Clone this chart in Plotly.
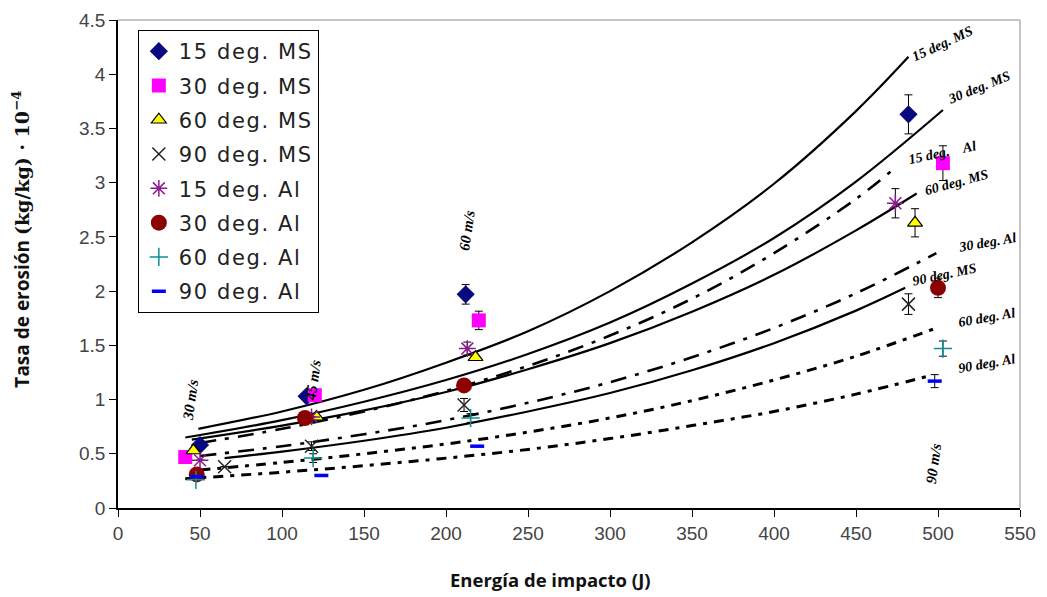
import plotly.graph_objects as go

# ---------------- data ----------------
series_names = ["15 deg. MS", "30 deg. MS", "60 deg. MS", "90 deg. MS",
                "15 deg. Al", "30 deg. Al", "60 deg. Al", "90 deg. Al"]

pts_x = {
    "15 deg. MS": [50, 115, 212, 482],
    "30 deg. MS": [41, 120, 220, 503],
    "60 deg. MS": [46, 121, 218, 486],
    "90 deg. MS": [65, 118, 211, 482],
    "15 deg. Al": [50, 118, 213, 474],
    "30 deg. Al": [48, 114, 211, 500],
    "60 deg. Al": [47.5, 119, 215, 503],
    "90 deg. Al": [48, 124, 219, 498],
}
pts_y = {
    "15 deg. MS": [0.58, 1.03, 1.97, 3.63],
    "30 deg. MS": [0.47, 1.04, 1.73, 3.18],
    "60 deg. MS": [0.53, 0.84, 1.39, 2.63],
    "90 deg. MS": [0.38, 0.57, 0.95, 1.88],
    "15 deg. Al": [0.44, 0.84, 1.47, 2.81],
    "30 deg. Al": [0.31, 0.83, 1.13, 2.03],
    "60 deg. Al": [0.26, 0.46, 0.83, 1.47],
    "90 deg. Al": [0.29, 0.30, 0.57, 1.17],
}
pts_err = {
    "15 deg. MS": [0, 0, 0.09, 0.18],
    "30 deg. MS": [0, 0, 0.085, 0.16],
    "60 deg. MS": [0, 0, 0, 0.13],
    "90 deg. MS": [0, 0.04, 0.06, 0.095],
    "15 deg. Al": [0, 0, 0.06, 0.135],
    "30 deg. Al": [0, 0, 0, 0.09],
    "60 deg. Al": [0, 0.04, 0.04, 0.07],
    "90 deg. Al": [0, 0, 0, 0.06],
}

# fitted curves (read at regular energies)
curve_x = {
    "15 deg. MS": [49, 100, 150, 200, 250, 300, 350, 400, 450, 482],
    "30 deg. MS": [41, 100, 150, 200, 250, 300, 350, 400, 450, 503],
    "15 deg. Al": [50, 100, 150, 200, 250, 300, 350, 400, 450, 471],
    "60 deg. MS": [45, 100, 150, 200, 250, 300, 350, 400, 450, 487],
    "30 deg. Al": [50, 100, 150, 200, 250, 300, 350, 400, 450, 499],
    "90 deg. MS": [65, 100, 150, 200, 250, 300, 350, 400, 450, 480],
    "60 deg. Al": [50, 100, 150, 200, 250, 300, 350, 400, 450, 499],
    "90 deg. Al": [41, 100, 150, 200, 250, 300, 350, 400, 450, 495],
}
curve_y = {
    "15 deg. MS": [0.73, 0.89, 1.09, 1.34, 1.63, 2.00, 2.45, 2.99, 3.66, 4.16],
    "30 deg. MS": [0.65, 0.81, 0.98, 1.18, 1.42, 1.71, 2.07, 2.49, 3.01, 3.67],
    "15 deg. Al": [0.60, 0.73, 0.89, 1.08, 1.31, 1.59, 1.93, 2.35, 2.85, 3.10],
    "60 deg. MS": [0.63, 0.76, 0.90, 1.07, 1.28, 1.52, 1.81, 2.15, 2.56, 2.90],
    "30 deg. Al": [0.48, 0.57, 0.68, 0.81, 0.97, 1.16, 1.39, 1.66, 1.98, 2.35],
    "90 deg. MS": [0.46, 0.52, 0.62, 0.74, 0.89, 1.06, 1.27, 1.52, 1.82, 2.03],
    "60 deg. Al": [0.35, 0.42, 0.50, 0.59, 0.70, 0.83, 0.99, 1.18, 1.40, 1.66],
    "90 deg. Al": [0.27, 0.33, 0.39, 0.46, 0.54, 0.64, 0.76, 0.89, 1.05, 1.22],
}

curve_labels = ["15 deg. MS", "30 deg. MS", "15 deg.&nbsp;&nbsp;&nbsp;&nbsp;Al", "60 deg. MS",
                "30 deg. Al", "90 deg. MS", "60 deg. Al", "90 deg. Al"]
curve_order = ["15 deg. MS", "30 deg. MS", "15 deg. Al", "60 deg. MS",
               "30 deg. Al", "90 deg. MS", "60 deg. Al", "90 deg. Al"]
curve_label_x = [503, 525, 503, 511, 530, 504, 530, 530]
curve_label_y = [4.28, 3.88, 3.28, 3.00, 2.45, 2.15, 1.76, 1.33]
curve_label_angle = [-25, -22, -12, -15, -10, -12, -10, -10]

speed_labels = ["30 m/s", "45 m/s", "60 m/s", "90 m/s"]
speed_x = [44, 119, 213, 497]
speed_y = [1.00, 1.18, 2.56, 0.41]

x_ticks = list(range(0, 551, 50))
y_ticks = [0, 0.5, 1, 1.5, 2, 2.5, 3, 3.5, 4, 4.5]

# ---------------- styles ----------------
marker_style = {
    "15 deg. MS": dict(symbol="diamond", color="#0a0a80", size=14),
    "30 deg. MS": dict(symbol="square", color="#ff00ff", size=14),
    "60 deg. MS": dict(symbol="triangle-up", color="#ffff00", size=13,
                       line=dict(color="black", width=1.2)),
    "90 deg. MS": dict(symbol="x-thin-open", color="#222222", size=13,
                       line=dict(color="#222222", width=1.5)),
    "15 deg. Al": dict(symbol="asterisk-open", color="#8b1a8b", size=14,
                       line=dict(color="#8b1a8b", width=1.5)),
    "30 deg. Al": dict(symbol="circle", color="#8b0000", size=16),
    "60 deg. Al": dict(symbol="cross-thin-open", color="#0e8f8f", size=13,
                       line=dict(color="#0e8f8f", width=1.5)),
    "90 deg. Al": dict(symbol="line-ew-open", color="#0000ff", size=10,
                       line=dict(color="#0000ff", width=3.5)),
}
curve_style = {
    "15 deg. MS": dict(color="black", width=2.2, dash="solid"),
    "30 deg. MS": dict(color="black", width=2.2, dash="solid"),
    "60 deg. MS": dict(color="black", width=2.2, dash="solid"),
    "90 deg. MS": dict(color="black", width=2.2, dash="solid"),
    "15 deg. Al": dict(color="black", width=2.6, dash="16px,9px,4px,9px"),
    "30 deg. Al": dict(color="black", width=2.6, dash="16px,9px,4px,9px"),
    "60 deg. Al": dict(color="black", width=3.0, dash="10px,7px,4px,7px"),
    "90 deg. Al": dict(color="black", width=3.0, dash="10px,7px,4px,7px"),
}

fig = go.Figure()

for name in curve_order:
    fig.add_trace(go.Scatter(
        x=curve_x[name], y=curve_y[name], mode="lines",
        line=dict(shape="spline", **curve_style[name]),
        showlegend=False, hoverinfo="skip"))

for name in series_names:
    fig.add_trace(go.Scatter(
        x=pts_x[name], y=pts_y[name], mode="markers",
        name="<span style='letter-spacing:1.6px'>" + name + "</span>",
        legendgroup=name,
        marker=marker_style[name],
        error_y=dict(type="data", array=pts_err[name], visible=True,
                     color="black", thickness=1, width=4)))

ann = []
for t, x, y, a in zip(curve_labels, curve_label_x, curve_label_y, curve_label_angle):
    ann.append(dict(x=x, y=y, xref="x", yref="y", text="<b><i>" + t + "</i></b>",
                    showarrow=False, textangle=a,
                    font=dict(family="Liberation Serif", size=14, color="black")))
for t, x, y in zip(speed_labels, speed_x, speed_y):
    ann.append(dict(x=x, y=y, xref="x", yref="y", text="<b><i>" + t + "</i></b>",
                    showarrow=False, textangle=-82,
                    font=dict(family="Liberation Serif", size=15, color="black")))

# axis titles
ann.append(dict(x=-0.1064, y=0.55, xref="paper", yref="paper", showarrow=False,
                textangle=-90, xanchor="center", yanchor="middle",
                text="<b>Tasa de erosión <span style='font-family:DejaVu Serif'>(kg/kg) · 10<sup>−4</sup></span></b>",
                font=dict(family="Open Sans", size=19, color="#111111")))
ann.append(dict(x=0.48, y=-0.1475, xref="paper", yref="paper", showarrow=False,
                xanchor="center", yanchor="middle",
                text="<b>Energía de impacto (J)</b>",
                font=dict(family="Open Sans", size=18.5, color="#111111")))

fig.update_layout(
    width=1047, height=597,
    margin=dict(l=118, r=27, t=20, b=89),
    paper_bgcolor="white", plot_bgcolor="white",
    font=dict(family="Liberation Sans", size=18, color="#333333"),
    annotations=ann,
    legend=dict(x=0.022, y=0.9795, xanchor="left", yanchor="top",
                bgcolor="white", bordercolor="black", borderwidth=1,
                font=dict(family="DejaVu Sans", size=21, color="#222222"),
                itemwidth=30, tracegroupgap=4),
    xaxis=dict(range=[0, 550], tickvals=x_ticks, showgrid=False, zeroline=False,
               showline=True, linecolor="black", linewidth=1.5, automargin=False,
               ticks="outside", ticklen=7, tickcolor="black",
               tickfont=dict(family="Liberation Sans", size=19, color="#444444")),
    yaxis=dict(range=[0, 4.5], tickvals=y_ticks, showgrid=False, zeroline=False,
               showline=True, linecolor="black", linewidth=1.5, automargin=False,
               ticks="outside", ticklen=7, tickcolor="black",
               tickfont=dict(family="Liberation Sans", size=19, color="#444444")),
    shapes=[
        dict(type="line", xref="paper", yref="paper", x0=0, x1=1, y0=1, y1=1,
             line=dict(color="#b0b0b0", width=1.5)),
        dict(type="line", xref="paper", yref="paper", x0=1, x1=1, y0=0, y1=1,
             line=dict(color="#b0b0b0", width=1.5)),
    ],
)

fig.write_html("out.html", config={"displayModeBar": False},
               post_script="document.body.style.margin='0px';")
